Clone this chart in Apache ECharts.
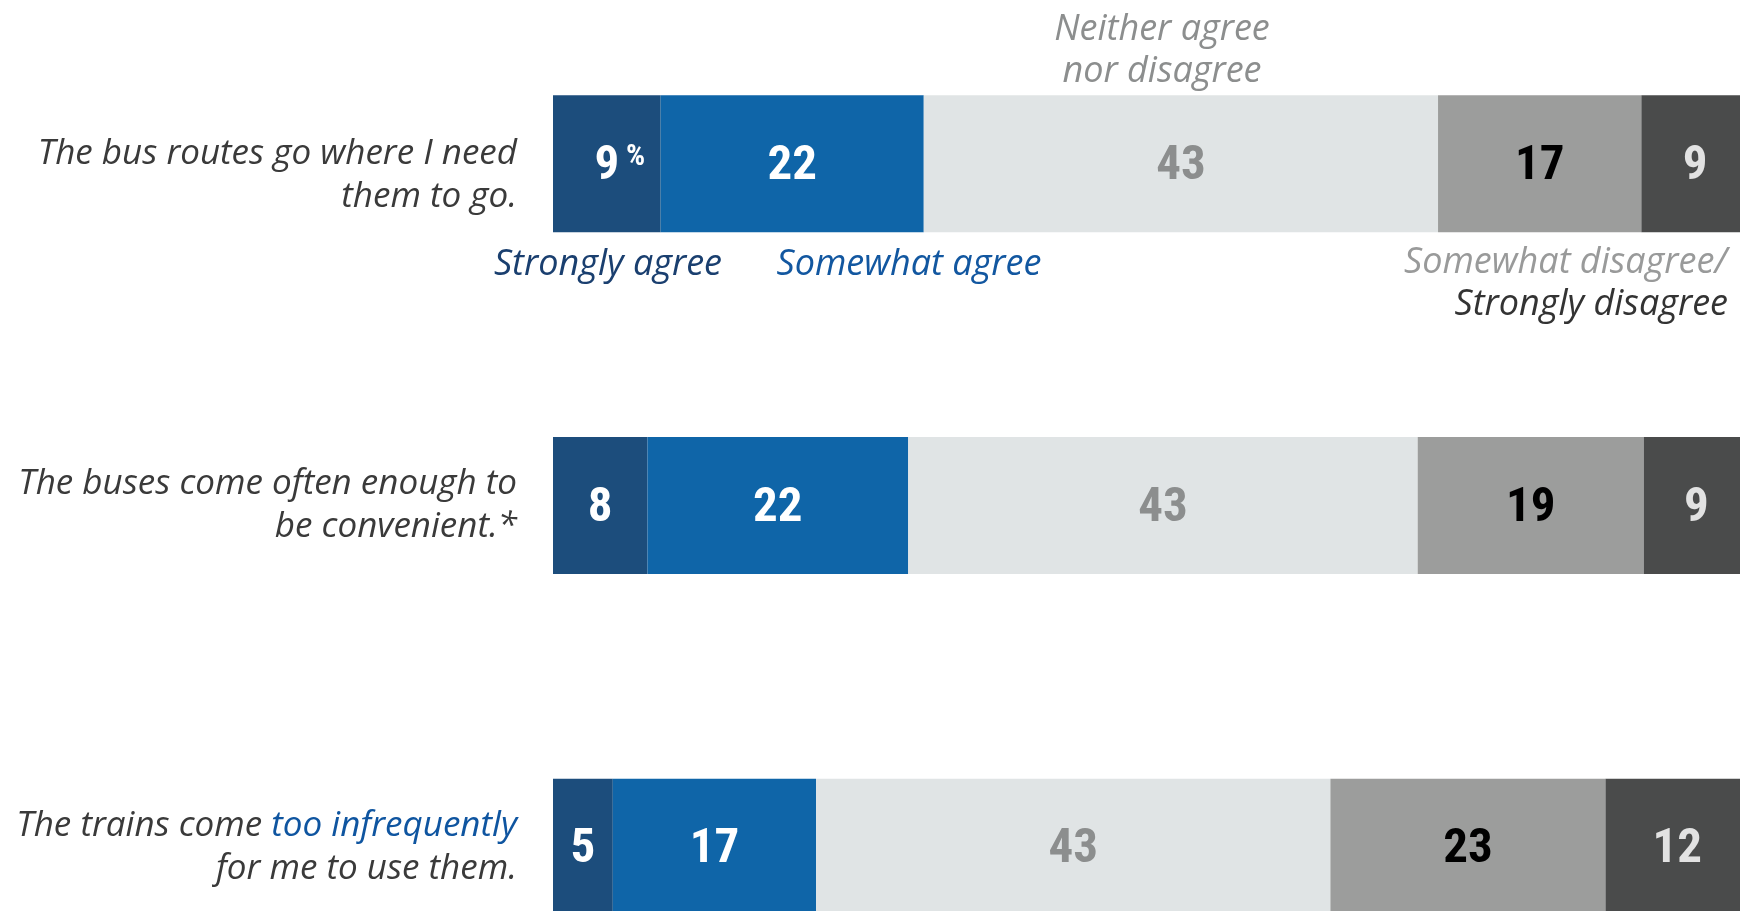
<!DOCTYPE html>
<html>
<head>
<meta charset="utf-8">
<script src="https://cdn.jsdelivr.net/npm/echarts@6/dist/echarts.min.js"></script>
<style>
html,body{margin:0;padding:0;background:#fff;}
#chart{width:1740px;height:911px;}
</style>
</head>
<body>
<div id="chart"></div>
<script>
// Data (unrounded shares; labels show rounded values)
var categories = [
  'The bus routes go where I need\nthem to go.',
  'The buses come often enough to\nbe convenient.*',
  'The trains come too infrequently\nfor me to use them.'
];
var seriesNames = ['Strongly agree', 'Somewhat agree', 'Neither agree nor disagree', 'Somewhat disagree', 'Strongly disagree'];
var stronglyAgree = [9, 7.9, 5];
var somewhatAgree = [22, 21.8, 17];
var neither = [43, 42.6, 43];
var somewhatDisagree = [17, 18.9, 23];
var stronglyDisagree = [9, 8.8, 12];

var barColors = ['#1c4d7c', '#0f65a8', '#e0e4e5', '#9c9d9c', '#4a4b4b'];
var labelColors = ['#ffffff', '#ffffff', '#8c8e8e', '#000000', '#e2e2e2'];
var valueSets = [stronglyAgree, somewhatAgree, neither, somewhatDisagree, stronglyDisagree];

var labelFont = '"Roboto Condensed", "Open Sans Condensed", "Liberation Sans Narrow", "DejaVu Sans Condensed", sans-serif';
var textFont = '"Open Sans", Lato, sans-serif';

var series = valueSets.map(function (vals, si) {
  return {
    name: seriesNames[si],
    type: 'bar',
    stack: 'total',
    barWidth: 137,
    clip: false,
    itemStyle: { color: barColors[si] },
    label: {
      show: true,
      position: 'inside',
      color: labelColors[si],
      fontFamily: labelFont,
      fontWeight: 'bold',
      fontSize: 49,
      offset: [0, 3],
      formatter: function (p) { return String(Math.round(p.value)); }
    },
    data: vals.map(function (v, ci) {
      if (si === 0 && ci === 0) {
        return {
          value: v,
          label: {
            formatter: function (p) { return '{a|' + Math.round(p.value) + '}{b| %}'; },
            offset: [13, 3],
            rich: {
              a: { color: '#fff', fontFamily: labelFont, fontWeight: 'bold', fontSize: 49 },
              b: { color: '#fff', fontFamily: labelFont, fontWeight: 'bold', fontSize: 30, verticalAlign: 'top' }
            }
          }
        };
      }
      return v;
    })
  };
});

var chart = echarts.init(document.getElementById('chart'));
chart.setOption({
  animation: false,
  backgroundColor: '#ffffff',
  grid: { left: 553, top: -7, width: 1196, height: 1025, containLabel: false, outerBoundsMode: 'none' },
  xAxis: {
    type: 'value', min: 0, max: 100, show: false
  },
  yAxis: {
    type: 'category',
    inverse: true,
    data: categories.map(function (c, i) {
      return i === 0 ? { value: c, textStyle: { padding: [24, 0, 0, 0] } } : c;
    }),
    axisLine: { show: false },
    axisTick: { show: false },
    splitLine: { show: false },
    axisLabel: {
      margin: 36,
      align: 'right',
      formatter: function (val) {
        var lines = val.split('\n');
        return lines.map(function (line) {
          var key = 'too infrequently';
          var idx = line.indexOf(key);
          if (idx >= 0) {
            return '{n|' + line.slice(0, idx) + '}{b|' + key + '}{n|' + line.slice(idx + key.length) + '}';
          }
          return '{n|' + line + '}';
        }).join('\n');
      },
      rich: {
        n: { color: '#3a3a3a', fontFamily: textFont, fontStyle: 'italic', fontSize: 35, lineHeight: 43 },
        b: { color: '#0f55a0', fontFamily: textFont, fontStyle: 'italic', fontSize: 35, lineHeight: 43 }
      }
    }
  },
  series: series,
  graphic: [
    { type: 'text', style: { x: 1162, y: 30, text: 'Neither agree', fill: '#8c8e8e', font: 'italic 36px ' + textFont, textAlign: 'center', textVerticalAlign: 'middle' } },
    { type: 'text', style: { x: 1162, y: 72, text: 'nor disagree', fill: '#8c8e8e', font: 'italic 36px ' + textFont, textAlign: 'center', textVerticalAlign: 'middle' } },
    { type: 'text', style: { x: 608, y: 265, text: 'Strongly agree', fill: '#1a3f6f', font: 'italic 36px ' + textFont, textAlign: 'center', textVerticalAlign: 'middle' } },
    { type: 'text', style: { x: 909, y: 265, text: 'Somewhat agree', fill: '#1257a0', font: 'italic 36px ' + textFont, textAlign: 'center', textVerticalAlign: 'middle' } },
    { type: 'text', style: { x: 1727, y: 263, text: 'Somewhat disagree/', fill: '#999a9a', font: 'italic 36px ' + textFont, textAlign: 'right', textVerticalAlign: 'middle' } },
    { type: 'text', style: { x: 1728, y: 305, text: 'Strongly disagree', fill: '#333333', font: 'italic 36px ' + textFont, textAlign: 'right', textVerticalAlign: 'middle' } }
  ]
});
</script>
</body>
</html>
